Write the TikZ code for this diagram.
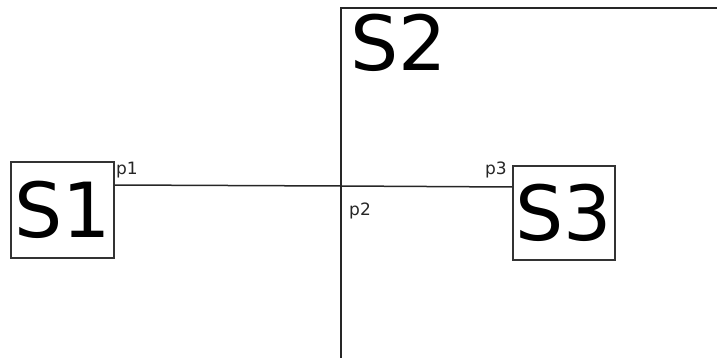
\documentclass[tikz,border=0pt]{standalone}
\usepackage{fontspec}
\setmainfont{DejaVu Sans}
\usetikzlibrary{positioning}
\tikzset{
  sysbox/.style={draw=black!80, line width=1.5pt, fill=white, inner sep=0pt,
                 font=\fontsize{76}{76}\selectfont},
  portlabel/.style={inner sep=0pt, text=black!85, font=\fontsize{17}{17}\selectfont},
  link/.style={draw=black!85, line width=1.5pt},
}
\begin{document}
\begin{tikzpicture}[x=1pt,y=-1pt]
  \useasboundingbox (0,0) rectangle (717,358);
  \clip (0,0) rectangle (717,358);
  % outer system, running off the page
  \draw[link] (900,8) -- (341,8) -- (341,500);
  \node[inner sep=0pt, anchor=north west, font=\fontsize{76}{76}\selectfont] (s2) at (350,14) {S2};
  % inner systems
  \node[sysbox, minimum width=103pt, minimum height=96pt] (s1) at (62.5,210) {S1};
  \node[sysbox, minimum width=102pt, minimum height=94pt] (s3) at (564,213) {S3};
  % ports
  \coordinate (p1) at (s1.east |- 0,185);
  \coordinate (p3) at (s3.west |- 0,187);
  \coordinate (p2) at (341,186);
  \draw[link] (p1) -- (p2) -- (p3);
  \node[portlabel, anchor=base west] (l1) at (116,175) {p1};
  \node[portlabel, anchor=base west] (l2) at (349,215) {p2};
  \node[portlabel, anchor=base east] (l3) at (507,175) {p3};
\end{tikzpicture}
\end{document}
